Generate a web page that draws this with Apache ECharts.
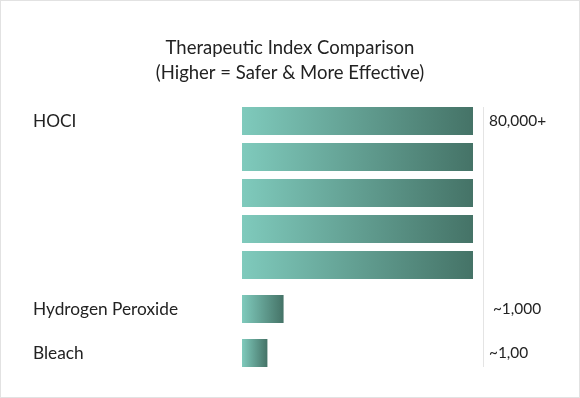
<!DOCTYPE html>
<html>
<head>
<meta charset="utf-8">
<script src="https://cdn.jsdelivr.net/npm/echarts@6/dist/echarts.min.js"></script>
<style>
  html, body { margin: 0; padding: 0; background: #fff; }
  #main {
    width: 580px;
    height: 398px;
    box-sizing: border-box;
    border: 1px solid #e2e2e2;
  }
</style>
</head>
<body>
<div id="main"></div>
<script>
// data (bar lengths are relative, HOCI = 100)
const categories = ['HOCI', 'Hydrogen Peroxide', 'Bleach'];
const hociRows = [100, 100, 100, 100, 100];
const otherValues = [18, 11];
const valueLabels = ['80,000+', ' ~1,000', '~1,00'];

const FONT = 'Lato, "Noto Sans", sans-serif';
const TEXT = '#222';

const barGradient = new echarts.graphic.LinearGradient(0, 0, 1, 0, [
    { offset: 0, color: '#7fcabc' },
    { offset: 1, color: '#457367' }
]);

const chart = echarts.init(document.getElementById('main'), null, { renderer: 'canvas' });

const leftLabel = {
    align: 'left',
    margin: 209,
    fontSize: 17.3,
    color: TEXT,
    fontFamily: FONT
};
const rightLabel = {
    align: 'left',
    margin: 16,
    fontSize: 15.4,
    color: TEXT,
    fontFamily: FONT
};

chart.setOption({
    animation: false,
    title: {
        text: 'Therapeutic Index Comparison\n(Higher = Safer & More Effective)',
        left: 'center',
        top: 30,
        textStyle: {
            fontSize: 18.5,
            lineHeight: 25,
            fontWeight: 'normal',
            color: TEXT,
            fontFamily: FONT
        }
    },
    grid: [
        { left: 241, right: 106, top: 102, height: 180 },
        { left: 241, right: 106, top: 286, height: 88 }
    ],
    xAxis: [
        { gridIndex: 0, type: 'value', min: 0, max: 100, show: false },
        { gridIndex: 1, type: 'value', min: 0, max: 100, show: false }
    ],
    yAxis: [
        {
            gridIndex: 0, type: 'category', inverse: true,
            data: hociRows.map((v, i) => 'row' + i),
            axisLine: { show: false }, axisTick: { show: false },
            axisLabel: Object.assign({}, leftLabel, {
                formatter: (v, i) => (i === 0 ? categories[0] : '')
            })
        },
        {
            gridIndex: 1, type: 'category', inverse: true,
            data: categories.slice(1),
            axisLine: { show: false }, axisTick: { show: false },
            axisLabel: leftLabel
        },
        {
            gridIndex: 0, type: 'category', inverse: true, position: 'right',
            data: hociRows.map((v, i) => 'row' + i),
            axisLine: { show: false }, axisTick: { show: false },
            axisLabel: Object.assign({}, rightLabel, {
                formatter: (v, i) => (i === 0 ? valueLabels[0] : '')
            })
        },
        {
            gridIndex: 1, type: 'category', inverse: true, position: 'right',
            data: valueLabels.slice(1),
            axisLine: { show: false }, axisTick: { show: false },
            axisLabel: rightLabel
        }
    ],
    graphic: [
        {
            type: 'line',
            shape: { x1: 482.5, y1: 106, x2: 482.5, y2: 366 },
            style: { stroke: '#e4e4e4', lineWidth: 1 },
            silent: true
        }
    ],
    series: [
        {
            type: 'bar',
            xAxisIndex: 0, yAxisIndex: 0,
            data: hociRows,
            barWidth: 28,
            itemStyle: { color: barGradient }
        },
        {
            type: 'bar',
            xAxisIndex: 1, yAxisIndex: 1,
            data: otherValues,
            barWidth: 28,
            itemStyle: { color: barGradient }
        }
    ]
});
</script>
</body>
</html>
